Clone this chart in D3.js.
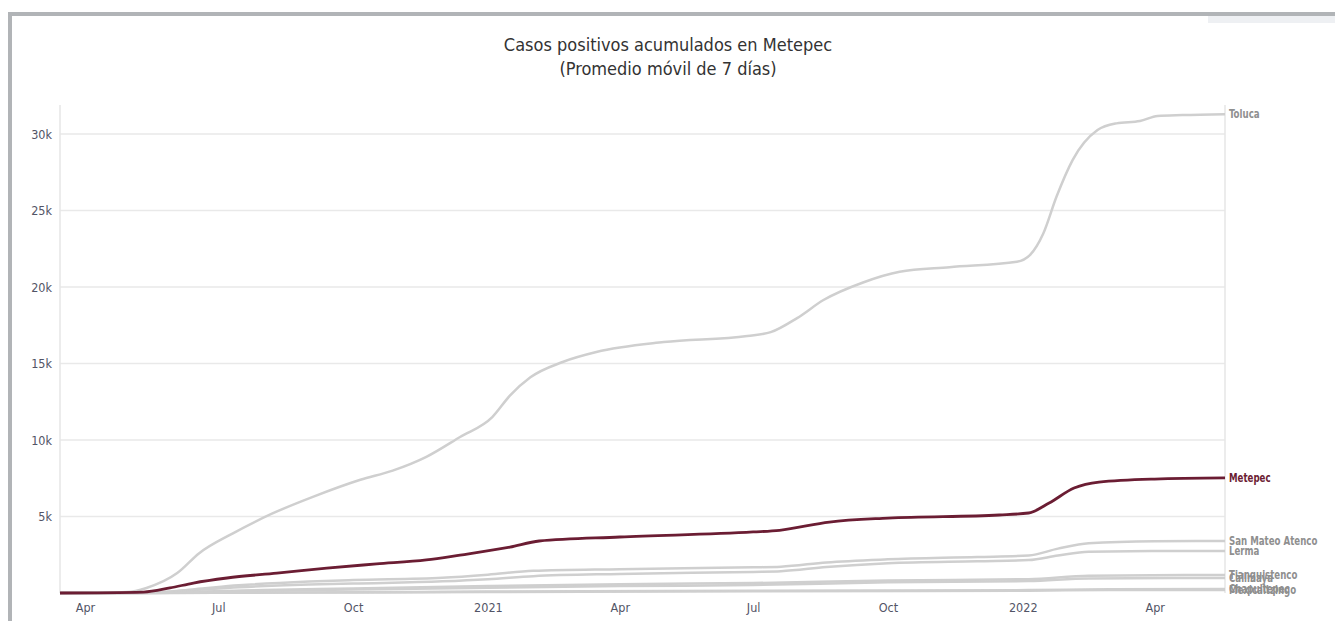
<!DOCTYPE html>
<html>
<head>
<meta charset="utf-8">
<script src="https://cdn.jsdelivr.net/npm/d3@7"></script>
<style>
  body { margin: 0; background: #fff; }
  svg { display: block; font-family: "DejaVu Sans Condensed", "DejaVu Sans", sans-serif; font-stretch: condensed; }
</style>
</head>
<body>
<svg width="1335" height="621"></svg>
<script>
// cumulative positive cases (7-day moving average)
const toluca = [
  ['2020-03-15', 0], ['2020-04-30', 60], ['2020-05-13', 330], ['2020-06-03', 1300],
  ['2020-06-18', 2600], ['2020-07-11', 3900], ['2020-08-07', 5200], ['2020-09-04', 6300],
  ['2020-10-06', 7400], ['2020-10-28', 8000], ['2020-11-20', 8900], ['2020-12-13', 10200],
  ['2021-01-04', 11500], ['2021-01-16', 12900], ['2021-01-30', 14100], ['2021-02-21', 15100],
  ['2021-03-16', 15750], ['2021-05-01', 16400], ['2021-06-27', 16800], ['2021-07-13', 17050],
  ['2021-07-31', 17970], ['2021-08-18', 19150], ['2021-09-14', 20300], ['2021-10-09', 21000],
  ['2021-11-12', 21300], ['2021-12-28', 21650], ['2022-01-06', 22100], ['2022-01-15', 23500],
  ['2022-01-24', 25900], ['2022-02-04', 28300], ['2022-02-21', 30260], ['2022-03-06', 30700],
  ['2022-03-22', 30850], ['2022-04-03', 31180], ['2022-04-20', 31240], ['2022-05-19', 31300]
]
const metepec = [
  ['2020-03-15', 0], ['2020-05-11', 60], ['2020-05-29', 330], ['2020-06-14', 650],
  ['2020-07-07', 980], ['2020-08-10', 1300], ['2020-09-13', 1630], ['2020-10-17', 1900],
  ['2020-11-20', 2160], ['2020-12-13', 2480], ['2021-01-16', 3000], ['2021-02-05', 3400],
  ['2021-04-01', 3660], ['2021-07-01', 3990], ['2021-07-19', 4100], ['2021-08-22', 4640],
  ['2021-10-01', 4900], ['2021-12-16', 5100], ['2022-01-05', 5230], ['2022-01-19', 5880],
  ['2022-02-05', 6860], ['2022-02-22', 7250], ['2022-04-01', 7450], ['2022-05-19', 7520]
]
const sanMateo = [
  ['2020-03-15', 0], ['2020-05-15', 20], ['2020-06-15', 250], ['2020-07-15', 500],
  ['2020-09-01', 750], ['2020-10-01', 850], ['2020-12-01', 1000], ['2021-01-01', 1200],
  ['2021-02-01', 1450], ['2021-04-01', 1560], ['2021-07-01', 1680], ['2021-07-20', 1720],
  ['2021-08-20', 2000], ['2021-10-01', 2200], ['2021-12-01', 2350], ['2022-01-05', 2450],
  ['2022-01-25', 2900], ['2022-02-15', 3250], ['2022-04-01', 3380], ['2022-05-19', 3400]
]
const lerma = [
  ['2020-03-15', 0], ['2020-05-15', 15], ['2020-06-15', 200], ['2020-07-15', 380],
  ['2020-09-01', 550], ['2020-10-01', 620], ['2020-12-01', 760], ['2021-01-01', 900],
  ['2021-02-01', 1100], ['2021-04-01', 1250], ['2021-07-01', 1380], ['2021-07-20', 1420],
  ['2021-08-20', 1700], ['2021-10-01', 1950], ['2021-12-01', 2080], ['2022-01-05', 2150],
  ['2022-01-25', 2450], ['2022-02-15', 2700], ['2022-04-01', 2740], ['2022-05-19', 2750]
]
const tianguistenco = [
  ['2020-03-15', 0], ['2020-05-15', 10], ['2020-06-15', 80], ['2020-08-01', 200],
  ['2020-10-01', 300], ['2021-01-01', 450], ['2021-04-01', 580], ['2021-07-01', 650],
  ['2021-10-01', 820], ['2022-01-05', 900], ['2022-02-15', 1130], ['2022-05-19', 1180]
]
const calimaya = [
  ['2020-03-15', 0], ['2020-05-15', 8], ['2020-06-15', 60], ['2020-08-01', 150],
  ['2020-10-01', 230], ['2021-01-01', 350], ['2021-04-01', 450], ['2021-07-01', 520],
  ['2021-10-01', 700], ['2022-01-05', 780], ['2022-02-15', 950], ['2022-05-19', 980]
]
const chapultepec = [
  ['2020-03-15', 0], ['2020-07-01', 20], ['2020-10-01', 50], ['2021-01-01', 90],
  ['2021-07-01', 140], ['2022-01-05', 190], ['2022-03-01', 250], ['2022-05-19', 260]
]
const mexicaltzingo = [
  ['2020-03-15', 0], ['2020-07-01', 15], ['2020-10-01', 40], ['2021-01-01', 70],
  ['2021-07-01', 110], ['2022-01-05', 150], ['2022-03-01', 195], ['2022-05-19', 200]
]

const seriesNames = ['Toluca', 'San Mateo Atenco', 'Lerma', 'Tianguistenco', 'Calimaya',
  'Chapultepec', 'Mexicaltzingo', 'Metepec']
const seriesValues = [toluca, sanMateo, lerma, tianguistenco, calimaya,
  chapultepec, mexicaltzingo, metepec]
const highlight = 'Metepec'
const yTicks = [5000, 10000, 15000, 20000, 25000, 30000]
const xTickDates = ['2020-04-01', '2020-07-01', '2020-10-01', '2021-01-01', '2021-04-01',
  '2021-07-01', '2021-10-01', '2022-01-01', '2022-04-01']

const parse = d3.timeParse('%Y-%m-%d')
const series = seriesNames.map((name, i) => ({
  name: name,
  values: seriesValues[i].map(d => ({ date: parse(d[0]), value: d[1] }))
}))

let svg = d3.select('svg')

// outer frame of the page the chart was cut from
svg.append('rect').attr('x', 10).attr('y', 14).attr('width', 1330).attr('height', 620)
    .attr('fill', 'none').attr('stroke', '#b1b4b7').attr('stroke-width', 4)
svg.append('rect').attr('x', 1208).attr('y', 16).attr('width', 127).attr('height', 7)
    .attr('fill', '#eef0f3')

const margin = { top: 105, right: 110, bottom: 28, left: 60 }
const width = 1335 - margin.left - margin.right
const height = 621 - margin.top - margin.bottom

let x = d3.scaleTime()
    .domain(d3.extent(toluca, d => parse(d[0])))
    .range([0, width])
let y = d3.scaleLinear()
    .domain([0, 31900])
    .range([height, 0])

let g = svg.append('g').attr('transform', 'translate(' + margin.left + ',' + margin.top + ')')

// grid
g.append('g')
    .selectAll('line')
    .data(yTicks)
    .enter().append('line')
      .attr('x1', 0).attr('x2', width)
      .attr('y1', d => y(d)).attr('y2', d => y(d))
      .attr('stroke', '#e9e9e9').attr('stroke-width', 1.5)

g.append('line').attr('x1', 0).attr('x2', 0).attr('y1', 0).attr('y2', height)
    .attr('stroke', '#e6e6e6').attr('stroke-width', 1.5)
g.append('line').attr('x1', width).attr('x2', width).attr('y1', 0).attr('y2', height)
    .attr('stroke', '#e6e6e6').attr('stroke-width', 1.5)

// y axis
let yAxis = g.append('g')
    .call(d3.axisLeft(y).tickValues(yTicks).tickSize(0).tickPadding(8)
      .tickFormat(d => (d / 1000) + 'k'))
yAxis.select('.domain').remove()
yAxis.selectAll('text')
    .attr('fill', '#525466').style('font-size', '12.5px')
    .style('font-family', '"DejaVu Sans Condensed", sans-serif')

// x axis
let xAxis = g.append('g')
    .attr('transform', 'translate(0,' + height + ')')
    .call(d3.axisBottom(x).tickValues(xTickDates.map(parse)).tickSize(0).tickPadding(10)
      .tickFormat(d => d.getMonth() === 0 ? d3.timeFormat('%Y')(d)
        : ['Apr', 'Jul', 'Oct'][[3, 6, 9].indexOf(d.getMonth())]))
xAxis.select('.domain').remove()
xAxis.selectAll('text')
    .attr('fill', '#525466').style('font-size', '12.5px')
    .style('font-family', '"DejaVu Sans Condensed", sans-serif')

let line = d3.line()
    .x(d => x(d.date))
    .y(d => y(d.value))
    .curve(d3.curveMonotoneX)

let lines = g.append('g')
    .selectAll('path')
    .data(series)
    .enter().append('path')
      .attr('d', d => line(d.values))
      .attr('fill', 'none')
      .attr('stroke', d => d.name === highlight ? '#6b1d33' : '#cfcfcf')
      .attr('stroke-width', d => d.name === highlight ? 2.8 : 2.5)
      .attr('stroke-linejoin', 'round')

// end labels, squeezed horizontally like the narrow face of the original
g.append('g')
    .selectAll('text')
    .data(series)
    .enter().append('text')
      .attr('transform', d => 'translate(' + (width + 4) + ',' +
        y(d.values[d.values.length - 1].value) + ') scale(0.8,1)')
      .attr('dy', '0.35em')
      .attr('fill', d => d.name === highlight ? '#6b1d33' : '#8f8f8f')
      .style('font-size', '12px')
      .style('font-weight', 'bold')
      .text(d => d.name)

// title
svg.append('text')
    .attr('x', 668).attr('y', 51)
    .attr('text-anchor', 'middle')
    .attr('fill', '#333')
    .style('font-size', '18px')
    .text('Casos positivos acumulados en Metepec')
svg.append('text')
    .attr('x', 668).attr('y', 75)
    .attr('text-anchor', 'middle')
    .attr('fill', '#333')
    .style('font-size', '18px')
    .text('(Promedio móvil de 7 días)')
</script>
</body>
</html>
